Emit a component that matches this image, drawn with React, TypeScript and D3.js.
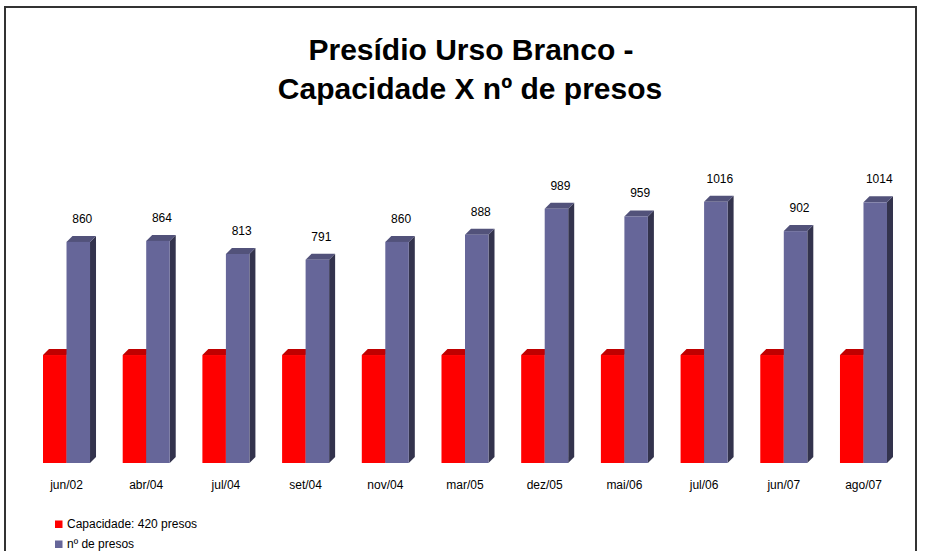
import React, { useEffect, useRef } from 'react';
import * as d3 from 'd3';

const categories = ['jun/02', 'abr/04', 'jul/04', 'set/04', 'nov/04', 'mar/05', 'dez/05', 'mai/06', 'jul/06', 'jun/07', 'ago/07'];
const capacidade = [420, 420, 420, 420, 420, 420, 420, 420, 420, 420, 420];
const presos = [860, 864, 813, 791, 860, 888, 989, 959, 1016, 902, 1014];
const seriesNames = ['Capacidade: 420 presos', 'nº de presos'];

export default () => {
  const svgRef = useRef<SVGSVGElement>(null);
  const width = 926;
  const height = 551;

  function loadGraph(elm: SVGSVGElement) {
    const svg = d3.select(elm);
    svg.selectAll('*').remove();
    const font = 'Liberation Sans, Arial, sans-serif';

    svg.append('rect')
      .attr('x', 5).attr('y', 7)
      .attr('width', 911).attr('height', 560)
      .attr('fill', 'white')
      .attr('stroke', '#333')
      .attr('stroke-width', 2);

    // title
    const title = svg.append('text')
      .attr('text-anchor', 'middle')
      .attr('font-family', font)
      .attr('font-weight', 'bold')
      .attr('font-size', 30);
    title.append('tspan').attr('x', 471).attr('y', 60).text('Presídio Urso Branco -');
    title.append('tspan').attr('x', 470).attr('y', 99).text('Capacidade X nº de presos');

    const x = d3.scaleBand<string>()
      .domain(categories)
      .range([43, 887])
      .paddingInner(0.41)
      .paddingOuter(0);

    const y = d3.scaleLinear().domain([0, 1200]).range([463, 154.5]);

    const bw = x.bandwidth() / 2;
    const dx = 6, dy = 6;

    const colors = [
      { front: '#ff0000', top: '#c00000', side: '#990000' },
      { front: '#666699', top: '#52527a', side: '#33334d' },
    ];

    const drawBar = (g: any, x0: number, y0: number, w: number, c: any) => {
      const base = y(0);
      g.append('path')
        .attr('d', `M${x0 + w},${y0} L${x0 + w + dx},${y0 - dy} L${x0 + w + dx},${base - dy} L${x0 + w},${base} Z`)
        .attr('fill', c.side);
      g.append('path')
        .attr('d', `M${x0},${y0} L${x0 + dx},${y0 - dy} L${x0 + w + dx},${y0 - dy} L${x0 + w},${y0} Z`)
        .attr('fill', c.top);
      g.append('rect')
        .attr('x', x0).attr('y', y0)
        .attr('width', w).attr('height', base - y0)
        .attr('fill', c.front);
    };

    const bars = svg.append('g');
    categories.forEach((cat, i) => {
      const x0 = x(cat)!;
      drawBar(bars, x0, y(capacidade[i]), bw, colors[0]);
      drawBar(bars, x0 + bw, y(presos[i]), bw, colors[1]);
    });

    svg.append('g')
      .selectAll('text')
      .data(presos)
      .enter()
      .append('text')
      .attr('x', (d, i) => x(categories[i])! + bw * 1.5 + 4)
      .attr('y', d => y(d) - 19)
      .attr('text-anchor', 'middle')
      .attr('font-family', font)
      .attr('font-size', 12)
      .text(d => d);

    svg.append('g')
      .selectAll('text')
      .data(categories)
      .enter()
      .append('text')
      .attr('x', d => x(d)! + bw)
      .attr('y', 489)
      .attr('text-anchor', 'middle')
      .attr('font-family', font)
      .attr('font-size', 12)
      .text(d => d);

    const legend = svg.append('g');
    seriesNames.forEach((name, i) => {
      legend.append('rect')
        .attr('x', 55).attr('y', 520.5 + i * 20)
        .attr('width', 7.5).attr('height', 7.5)
        .attr('fill', colors[i].front);
      legend.append('text')
        .attr('x', 67).attr('y', 527.5 + i * 20)
        .attr('font-family', font)
        .attr('font-size', 12)
        .text(name);
    });
  }

  useEffect(() => {
    if (svgRef.current) {
      loadGraph(svgRef.current);
    }
  }, [svgRef.current]);

  return <svg ref={svgRef} width={width} height={height}
    style={{ position: 'absolute', left: 0, top: 0, background: 'white' }}></svg>;
}
